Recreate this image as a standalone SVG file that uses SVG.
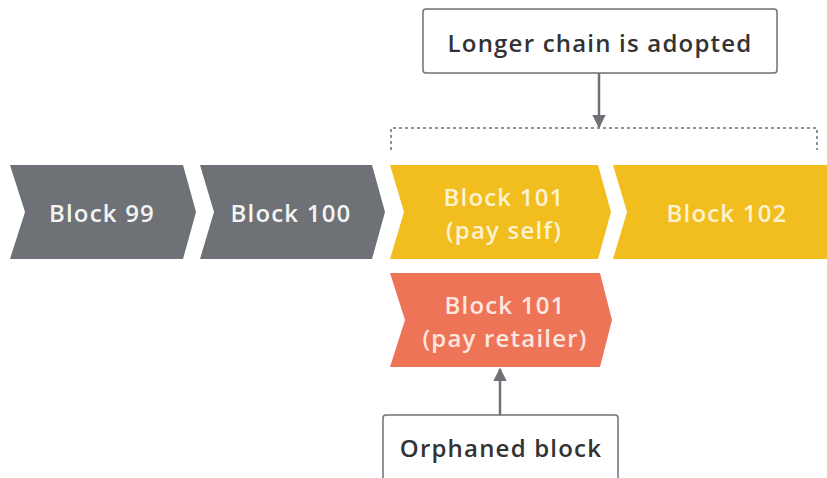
<svg xmlns="http://www.w3.org/2000/svg" width="827" height="478" viewBox="0 0 827 478">
<defs>
<style>
.gray{fill:#6e7175}
.yel{fill:#f2bd1e}
.red{fill:#ee7458}
.lbl{font-family:"Open Sans","Liberation Sans",sans-serif;font-weight:600;font-size:24px;letter-spacing:1.2px;text-anchor:middle;dominant-baseline:central}
.wt{fill:#f4f4f4}
.yt{fill:#fdf3d0}
.rt{fill:#fde6df}
.dk{fill:#333333}
.box{fill:#ffffff;stroke:#6e7175;stroke-width:1.5}
.conn{stroke:#6e7175;stroke-width:2.5;fill:none}
.dash{stroke:#6e7175;stroke-width:1.5;fill:none;stroke-dasharray:3 3}
</style>
<marker id="ah" viewBox="0 0 10 10" refX="9" refY="5" markerWidth="5.5" markerHeight="5.5" orient="auto">
<path d="M0,0 L10,5 L0,10 z" fill="#6e7175"/>
</marker>
</defs>
<g id="block99">
<polygon class="gray" points="10,165 183,165 196,212 183,259 10,259 25,212"/>
<text class="lbl wt" x="102" y="212">Block 99</text>
</g>
<g id="block100">
<polygon class="gray" points="200,165 372,165 385,212 372,259 200,259 214,212"/>
<text class="lbl wt" x="291" y="212">Block 100</text>
</g>
<g id="block101self">
<polygon class="yel" points="390,165 598,165 611,212 598,259 390,259 404,212"/>
<text class="lbl yt" x="504" y="196">Block 101</text>
<text class="lbl yt" x="504" y="229">(pay self)</text>
</g>
<g id="block102">
<polygon class="yel" points="613,165 827,165 827,259 613,259 627,212"/>
<text class="lbl yt" x="727" y="212">Block 102</text>
</g>
<g id="block101retailer">
<polygon class="red" points="390,273 600,273 612,320 600,367 390,367 405,320"/>
<text class="lbl rt" x="505" y="304">Block 101</text>
<text class="lbl rt" x="505" y="337">(pay retailer)</text>
</g>
<g id="longer">
<rect class="box" x="423" y="9" width="354" height="64" rx="3"/>
<text class="lbl dk" x="600" y="42">Longer chain is adopted</text>
</g>
<g id="orphaned">
<rect class="box" x="383" y="415" width="235" height="75" rx="3"/>
<text class="lbl dk" x="501" y="447">Orphaned block</text>
</g>
<g id="connectors">
<path class="dash" d="M391,150 V128 H817 V150"/>
<line class="conn" x1="599" y1="73" x2="599" y2="127" marker-end="url(#ah)"/>
<line class="conn" x1="500" y1="415" x2="500" y2="369" marker-end="url(#ah)"/>
</g>
</svg>
